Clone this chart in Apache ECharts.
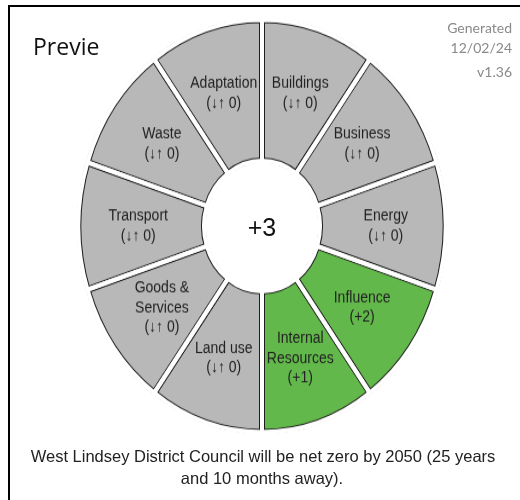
<!DOCTYPE html>
<html>
<head>
<meta charset="utf-8">
<script src="https://cdn.jsdelivr.net/npm/echarts@6/dist/echarts.min.js"></script>
<style>
html, body { margin: 0; padding: 0; background: #fff; }
#wrap { position: relative; width: 520px; height: 500px; overflow: hidden; }
#wheel, #texts { position: absolute; left: 0; top: 0; width: 520px; height: 500px; }
/* the original wheel is slightly taller than wide */
#wheel { transform: scaleY(1.124); transform-origin: 262px 226px; }
#texts { pointer-events: none; }
</style>
</head>
<body>
<div id="wrap"><div id="wheel"></div><div id="texts"></div></div>
<script>
// themes clockwise from 12 o'clock
var themes = ['Buildings', 'Business', 'Energy', 'Influence', 'Internal\nResources',
	'Land use', 'Goods &\nServices', 'Transport', 'Waste', 'Adaptation'];
var scores = [0, 0, 0, 2, 1, 0, 0, 0, 0, 0];
var weights = [1, 1, 1, 1, 1, 1, 1, 1, 1, 1];

var pageTitle = 'Previe';
var generatedLines = ['Generated', '12/02/24', 'v1.36'];
var council = 'West Lindsey District Council';
var targetYear = 2050;
var yearsAway = 25;
var monthsAway = 10;

var GREY = '#b8b8b8', GREEN = '#62b84a';

function scoreText(s) {
	if (s > 0) return '(+' + s + ')';
	if (s < 0) return '(' + s + ')';
	return '(\u2193\u2191 0)';
}

var total = scores.reduce(function (a, b) { return a + b; }, 0);

var cx = 262, cy = 226;
var rIn = 58, rOut = 183.5;

var fillData = themes.map(function (t, i) {
	return {
		name: t,
		value: weights[i],
		itemStyle: { color: scores[i] > 0 ? GREEN : GREY },
		label: { formatter: t + '\n' + scoreText(scores[i]) }
	};
});
var gapData = themes.map(function (t, i) {
	return { name: t, value: weights[i] };
});

//轮盘
var wheel = echarts.init(document.getElementById('wheel'), null, { renderer: 'canvas' });
wheel.setOption({
	animation: false,
	series: [
		{
			type: 'pie',
			silent: true,
			center: [cx, cy],
			radius: [rIn, rOut],
			startAngle: 90,
			data: fillData,
			itemStyle: { borderColor: '#1e1e1e', borderWidth: 6 },
			label: {
				show: true,
				position: 'inside',
				color: '#222',
				fontFamily: 'Liberation Sans, Arial',
				fontSize: 14,
				lineHeight: 17.5
			},
			labelLine: { show: false }
		},
		{
			// white gaps between the slices
			type: 'pie',
			silent: true,
			center: [cx, cy],
			radius: [rIn, rOut],
			startAngle: 90,
			data: gapData,
			itemStyle: { color: 'rgba(0,0,0,0)', borderColor: '#fff', borderWidth: 4 },
			label: { show: false },
			labelLine: { show: false }
		},
		{
			type: 'pie',
			silent: true,
			center: [cx, cy],
			radius: [rOut + 1.5, rOut + 6],
			data: [{ value: 1, itemStyle: { color: '#fff' } }],
			label: { show: false },
			labelLine: { show: false }
		},
		{
			type: 'pie',
			silent: true,
			center: [cx, cy],
			radius: [0, rIn - 1.5],
			data: [{ value: 1, itemStyle: { color: '#fff' } }],
			label: { show: false },
			labelLine: { show: false }
		}
	]
});

//文字
var texts = echarts.init(document.getElementById('texts'), null, { renderer: 'canvas' });
texts.setOption({
	animation: false,
	graphic: [
		{
			type: 'rect',
			shape: { x: 9, y: 6, width: 600, height: 600 },
			style: { fill: 'none', stroke: '#000', lineWidth: 2 }
		},
		{
			type: 'text', x: 33, y: 48,
			style: { text: pageTitle, font: '23px "Open Sans"', fill: '#111', textVerticalAlign: 'middle' }
		},
		{
			type: 'text', x: 512, y: 28,
			style: { text: generatedLines[0], font: '14px Lato', fill: '#8a8a8a', textAlign: 'right', textVerticalAlign: 'middle' }
		},
		{
			type: 'text', x: 512, y: 48,
			style: { text: generatedLines[1], font: '14px Lato', fill: '#8a8a8a', textAlign: 'right', textVerticalAlign: 'middle' }
		},
		{
			type: 'text', x: 512, y: 72,
			style: { text: generatedLines[2], font: '14px Lato', fill: '#8a8a8a', textAlign: 'right', textVerticalAlign: 'middle' }
		},
		{
			type: 'text', x: cx, y: 229,
			style: { text: (total > 0 ? '+' : '') + total, font: '25px "Liberation Sans"', fill: '#111', textAlign: 'center', textVerticalAlign: 'middle' }
		},
		{
			type: 'text', x: 263, y: 457,
			style: {
				text: council + ' will be net zero by ' + targetYear + ' (' + yearsAway + ' years',
				font: '16.5px "Liberation Sans"', fill: '#222', textAlign: 'center', textVerticalAlign: 'middle'
			}
		},
		{
			type: 'text', x: 262, y: 479,
			style: {
				text: 'and ' + monthsAway + ' months away).',
				font: '16.5px "Liberation Sans"', fill: '#222', textAlign: 'center', textVerticalAlign: 'middle'
			}
		}
	]
});
</script>
</body>
</html>
